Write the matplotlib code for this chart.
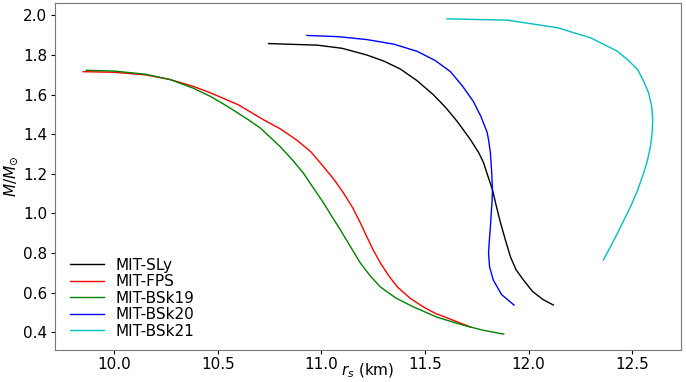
import matplotlib
matplotlib.use("Agg")
import matplotlib.pyplot as plt

# ----------------------------------------------------------------
# Mass-radius curves
# ----------------------------------------------------------------
sly_r = [10.744, 10.98, 11.10, 11.22, 11.30, 11.38, 11.46, 11.54, 11.60, 11.657,
         11.72, 11.76, 11.783, 11.805, 11.826, 11.845, 11.865, 11.89, 11.913, 11.94,
         11.976, 12.02, 12.07, 12.12]
sly_m = [1.858, 1.850, 1.834, 1.800, 1.770, 1.730, 1.672, 1.600, 1.535, 1.463,
         1.372, 1.306, 1.256, 1.185, 1.119, 1.035, 0.952, 0.860, 0.780, 0.715,
         0.663, 0.605, 0.565, 0.537]

fps_r = [9.85, 10.00, 10.15, 10.27, 10.38, 10.464, 10.60, 10.72, 10.80, 10.884, 10.95,
         11.01, 11.06, 11.106, 11.15, 11.188, 11.22, 11.25, 11.285, 11.325, 11.367,
         11.43, 11.493, 11.55, 11.61, 11.72]
fps_m = [1.716, 1.713, 1.700, 1.676, 1.642, 1.609, 1.548, 1.473, 1.428, 1.368, 1.310,
         1.236, 1.172, 1.104, 1.030, 0.952, 0.880, 0.815, 0.749, 0.685, 0.628,
         0.570, 0.527, 0.495, 0.471, 0.426]

bsk19_r = [9.865, 10.00, 10.15, 10.27, 10.38, 10.464, 10.55, 10.647, 10.705, 10.80,
           10.86, 10.913, 10.96, 11.01, 11.05, 11.092, 11.15, 11.188, 11.235, 11.285,
           11.36, 11.445, 11.56, 11.686, 11.78, 11.88]
bsk19_m = [1.723, 1.719, 1.703, 1.676, 1.633, 1.591, 1.538, 1.473, 1.431, 1.338,
           1.270, 1.203, 1.130, 1.053, 0.985, 0.916, 0.815, 0.749, 0.685, 0.628,
           0.572, 0.527, 0.475, 0.435, 0.410, 0.390]

bsk20_r = [10.93, 11.08, 11.22, 11.35, 11.464, 11.55, 11.623, 11.68, 11.734, 11.77,
           11.80, 11.807, 11.816, 11.822, 11.826, 11.824, 11.820, 11.816, 11.811, 11.807,
           11.812, 11.83, 11.87, 11.93]
bsk20_m = [1.899, 1.893, 1.878, 1.855, 1.818, 1.772, 1.716, 1.645, 1.565, 1.490,
           1.410, 1.372, 1.306, 1.210, 1.119, 1.060, 1.000, 0.932, 0.865, 0.800,
           0.730, 0.663, 0.590, 0.537]

bsk21_r = [11.607, 11.899, 12.14, 12.30, 12.43, 12.48, 12.527, 12.555, 12.58, 12.595,
           12.60, 12.597, 12.589, 12.575, 12.556, 12.528, 12.493, 12.46, 12.43, 12.362]
bsk21_m = [1.983, 1.976, 1.938, 1.887, 1.819, 1.775, 1.727, 1.670, 1.609, 1.540,
           1.473, 1.405, 1.338, 1.270, 1.203, 1.120, 1.034, 0.965, 0.900, 0.765]

labels = ["MIT-SLy", "MIT-FPS", "MIT-BSk19", "MIT-BSk20", "MIT-BSk21"]
colors = ["black", "red", "green", "blue", "c"]
curves = [(sly_r, sly_m), (fps_r, fps_m), (bsk19_r, bsk19_m),
          (bsk20_r, bsk20_m), (bsk21_r, bsk21_m)]

plt.rcParams.update({
    "font.family": "DejaVu Sans",
    "font.size":   11,
    "xtick.major.size": 3,
    "ytick.major.size": 3,
    "xtick.major.pad": 2,
    "ytick.major.pad": 2.5,
})

fig = plt.figure(figsize=(6.86, 3.82), dpi=100)
ax = fig.add_axes([0.080, 0.084, 0.913, 0.908])

for (r, m), lab, col in zip(curves, labels, colors):
    ax.plot(r, m, color=col, linewidth=1.0, label=lab)

ax.set_xlabel("$r_s$ (km)")
ax.xaxis.set_label_coords(0.5, -0.035)
ax.set_ylabel(r"$M/M_{\odot}$", labelpad=2)
ax.set_xticks([10.0, 10.5, 11.0, 11.5, 12.0, 12.5])
ax.set_yticks([0.4, 0.6, 0.8, 1.0, 1.2, 1.4, 1.6, 1.8, 2.0])
for sp in ax.spines.values():
    sp.set_color("#777777")
ax.legend(loc="lower left", bbox_to_anchor=(0.0, -0.012), frameon=False,
          fontsize=11, handlelength=2.2, labelspacing=0.1, borderaxespad=0.6)

fig.savefig("out.png", dpi=100)
